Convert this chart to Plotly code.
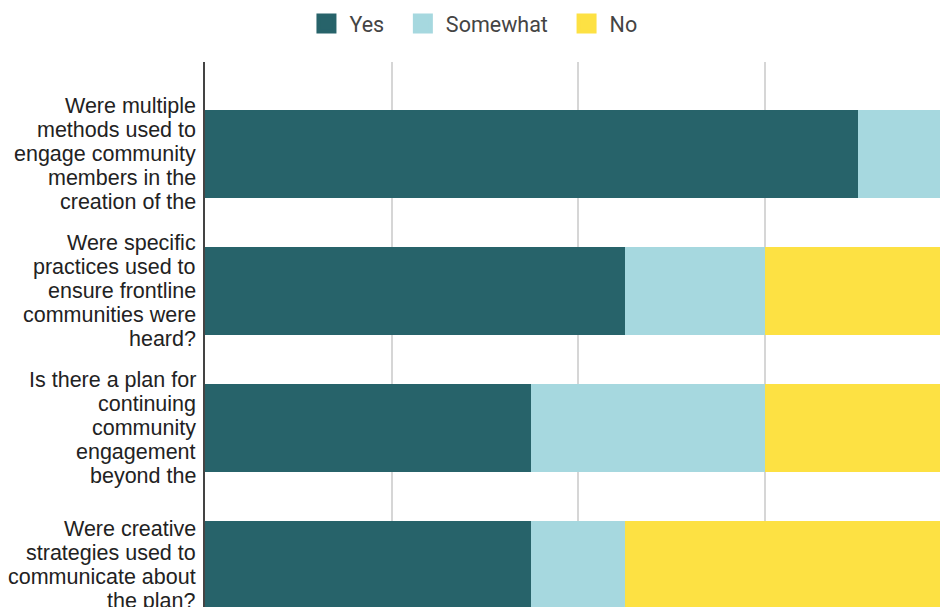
import plotly.graph_objects as go

# ---- data ----
questions = [
    "Were multiple methods used to engage community members in the creation of the plan?",
    "Were specific practices used to ensure frontline communities were heard?",
    "Is there a plan for continuing community engagement beyond the plan?",
    "Were creative strategies used to communicate about the plan?",
]
label_lines = [
    ["Were multiple", "methods used to", "engage community", "members in the", "creation of the"],
    ["Were specific", "practices used to", "ensure frontline", "communities were", "heard?"],
    ["Is there a plan for", "continuing", "community", "engagement", "beyond the"],
    ["Were creative", "strategies used to", "communicate about", "the plan?"],
]
series_names = ["Yes", "Somewhat", "No"]
yes_vals = [14, 9, 7, 7]
somewhat_vals = [2, 3, 5, 2]
no_vals = [0, 4, 4, 7]
series_values = [yes_vals, somewhat_vals, no_vals]
colors = ["#27636A", "#A6D8DF", "#FDE143"]

fig = go.Figure()
for name, vals, col in zip(series_names, series_values, colors):
    fig.add_trace(go.Bar(
        name=name, x=vals, y=questions, orientation="h",
        marker=dict(color=col, line=dict(width=0)),
        width=0.645, showlegend=False, legendgroup=name,
    ))
# legend-only entries (larger square swatches)
NBSP = "\u00a0"
for name, col in zip(series_names, colors):
    fig.add_trace(go.Scatter(
        name=name + NBSP * 2, x=[None], y=[None], mode="markers",
        marker=dict(symbol="square", size=16, color=col, line=dict(color=col, width=4)),
        legendgroup=name, showlegend=True,
    ))

annotations = []
for q, lines in zip(questions, label_lines):
    n = len(lines)
    for j, line in enumerate(lines):
        annotations.append(dict(
            text=line, x=0, xref="paper", xanchor="right", xshift=-7,
            y=q, yref="y", yanchor="middle", yshift=((n - 1) / 2 - j) * 24,
            showarrow=False,
            font=dict(family="Liberation Sans, Arial, sans-serif", size=21.5, color="#222222"),
        ))

fig.update_layout(
    width=940, height=607,
    margin=dict(l=205, r=0, t=62, b=0, pad=0),
    barmode="stack",
    plot_bgcolor="white", paper_bgcolor="white",
    showlegend=True,
    legend=dict(
        orientation="h", xref="container", x=0.509, xanchor="center",
        yref="container", y=0.995, yanchor="top",
        itemwidth=36,
        font=dict(family="Roboto, Arial, sans-serif", size=21.5, color="#444444"),
        itemclick=False, traceorder="normal",
    ),
    xaxis=dict(
        range=[0, 15.76], dtick=4, tick0=0, showticklabels=False,
        showgrid=True, gridcolor="#d6d6d6", gridwidth=2,
        zeroline=False, showline=False, ticks="", fixedrange=True,
    ),
    yaxis=dict(
        type="category", categoryorder="array", categoryarray=questions,
        range=[3.307, -0.6715], showticklabels=False, ticks="",
        showgrid=False, zeroline=False, showline=True,
        linecolor="#444444", linewidth=2, automargin=False, fixedrange=True,
    ),
    annotations=annotations,
)

fig.write_html(
    "out.html",
    config={"displayModeBar": False},
    post_script="document.body.style.margin='0';document.body.style.overflow='hidden';",
)
